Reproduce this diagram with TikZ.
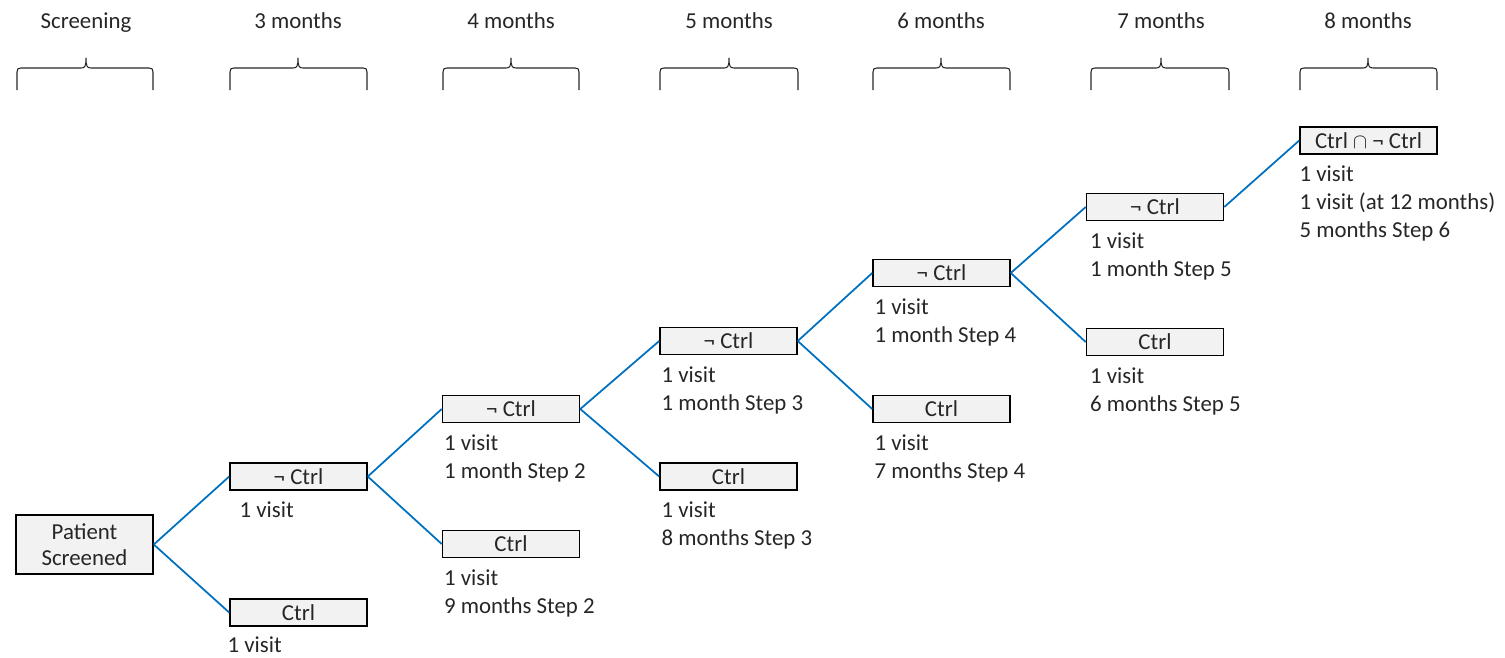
\documentclass[tikz,border=0pt]{standalone}
\usepackage{fontspec}
\setmainfont{Carlito}
\usetikzlibrary{positioning}
\definecolor{linkblue}{RGB}{0,112,192}
\definecolor{boxgray}{RGB}{242,242,242}
\definecolor{textgray}{RGB}{38,38,38}

\begin{document}
\begin{tikzpicture}[x=0.02cm,y=-0.02cm]
	\tikzstyle{every node}=[font=\fontsize{13}{15.9}\selectfont, text=textgray]
	\tikzstyle{head}=[text height=1.6ex, text depth=.4ex, inner sep=0pt]
	\tikzstyle{stage}=[draw=black, line width=0.9pt, fill=boxgray, minimum width=2.74cm, minimum height=0.54cm, inner sep=1pt]
	\tikzstyle{info}=[align=left, inner sep=0pt]
	\tikzstyle{link}=[draw=linkblue, line width=1pt]
	\tikzstyle{brace}=[draw=textgray, line width=0.6pt]
	\useasboundingbox (0,0) rectangle (1505,657);
	% column heads
	\node (h0) [head] at (86,23) {Screening};
	\node (h3) [head] at (298,23) {3 months};
	\node (h4) [head] at (511,23) {4 months};
	\node (h5) [head] at (729,23) {5 months};
	\node (h6) [head] at (941,23) {6 months};
	\node (h7) [head] at (1161,23) {7 months};
	\node (h8) [head] at (1368,23) {8 months};
	% braces
	\draw[brace] (17,90) -- (17,72) .. controls (17,69) and (18,68) .. (21,68) -- (81,68) .. controls (85,68) and (86,66) .. (86,58) .. controls (86,66) and (87,68) .. (91,68) -- (149,68) .. controls (152,68) and (153,69) .. (153,72) -- (153,90);
	\draw[brace] (230,90) -- (230,72) .. controls (230,69) and (231,68) .. (234,68) -- (293,68) .. controls (297,68) and (298,66) .. (298,58) .. controls (298,66) and (299,68) .. (303,68) -- (363,68) .. controls (366,68) and (367,69) .. (367,72) -- (367,90);
	\draw[brace] (443,90) -- (443,72) .. controls (443,69) and (444,68) .. (447,68) -- (506,68) .. controls (510,68) and (511,66) .. (511,58) .. controls (511,66) and (512,68) .. (516,68) -- (575,68) .. controls (578,68) and (579,69) .. (579,72) -- (579,90);
	\draw[brace] (660,90) -- (660,72) .. controls (660,69) and (661,68) .. (664,68) -- (724,68) .. controls (728,68) and (729,66) .. (729,58) .. controls (729,66) and (730,68) .. (734,68) -- (794,68) .. controls (797,68) and (798,69) .. (798,72) -- (798,90);
	\draw[brace] (873,90) -- (873,72) .. controls (873,69) and (874,68) .. (877,68) -- (936,68) .. controls (940,68) and (941,66) .. (941,58) .. controls (941,66) and (942,68) .. (946,68) -- (1006,68) .. controls (1009,68) and (1010,69) .. (1010,72) -- (1010,90);
	\draw[brace] (1091,90) -- (1091,72) .. controls (1091,69) and (1092,68) .. (1095,68) -- (1156,68) .. controls (1160,68) and (1161,66) .. (1161,58) .. controls (1161,66) and (1162,68) .. (1166,68) -- (1225,68) .. controls (1228,68) and (1229,69) .. (1229,72) -- (1229,90);
	\draw[brace] (1300,90) -- (1300,72) .. controls (1300,69) and (1301,68) .. (1304,68) -- (1363,68) .. controls (1367,68) and (1368,66) .. (1368,58) .. controls (1368,66) and (1369,68) .. (1373,68) -- (1433,68) .. controls (1436,68) and (1437,69) .. (1437,72) -- (1437,90);
	% stages
	\node (patient) [stage, minimum height=1.18cm, align=center, font=\fontsize{13}{14.7}\selectfont] at (84.5,544.5) {Patient\\Screened};
	\node (nc3) [stage] at (298.5,476.5) {¬ Ctrl};
	\node (c3) [stage] at (298.5,612.5) {Ctrl};
	\node (nc4) [stage] at (511,409) {¬ Ctrl};
	\node (c4) [stage] at (511,544) {Ctrl};
	\node (nc5) [stage] at (728.5,341) {¬ Ctrl};
	\node (c5) [stage] at (728.5,476.5) {Ctrl};
	\node (nc6) [stage] at (941.5,273) {¬ Ctrl};
	\node (c6) [stage] at (941.5,409) {Ctrl};
	\node (nc7) [stage] at (1155,207) {¬ Ctrl};
	\node (c7) [stage] at (1155,342) {Ctrl};
	\node (both8) [stage] at (1368.5,140.5) {Ctrl $\cap$ ¬ Ctrl};
	% visits
	\node (vnc3) [info, below right=0.22cm and 0.2cm of nc3.south west] {1 visit};
	\node (vc3) [info, below right=0.2cm and -0.04cm of c3.south west] {1 visit};
	\node (vnc4) [info, below right=0.22cm and 0.04cm of nc4.south west] {1 visit\\1 month Step 2};
	\node (vc4) [info, below right=0.22cm and 0.04cm of c4.south west] {1 visit\\9 months Step 2};
	\node (vnc5) [info, below right=0.22cm and 0.04cm of nc5.south west] {1 visit\\1 month Step 3};
	\node (vc5) [info, below right=0.22cm and 0.04cm of c5.south west] {1 visit\\8 months Step 3};
	\node (vnc6) [info, below right=0.22cm and 0.04cm of nc6.south west] {1 visit\\1 month Step 4};
	\node (vc6) [info, below right=0.22cm and 0.04cm of c6.south west] {1 visit\\7 months Step 4};
	\node (vnc7) [info, below right=0.22cm and 0.08cm of nc7.south west] {1 visit\\1 month Step 5};
	\node (vc7) [info, below right=0.22cm and 0.08cm of c7.south west] {1 visit\\6 months Step 5};
	\node (vboth8) [info, below right=0.22cm and 0cm of both8.south west] {1 visit\\1 visit (at 12 months)\\5 months Step 6};
	% links
	\draw[link] (patient.east) -- (nc3.west);
	\draw[link] (patient.east) -- (c3.west);
	\draw[link] (nc3.east) -- (nc4.west);
	\draw[link] (nc3.east) -- (c4.west);
	\draw[link] (nc4.east) -- (nc5.west);
	\draw[link] (nc4.east) -- (c5.west);
	\draw[link] (nc5.east) -- (nc6.west);
	\draw[link] (nc5.east) -- (c6.west);
	\draw[link] (nc6.east) -- (nc7.west);
	\draw[link] (nc6.east) -- (c7.west);
	\draw[link] (nc7.east) -- (both8.west);
\end{tikzpicture}
\end{document}
